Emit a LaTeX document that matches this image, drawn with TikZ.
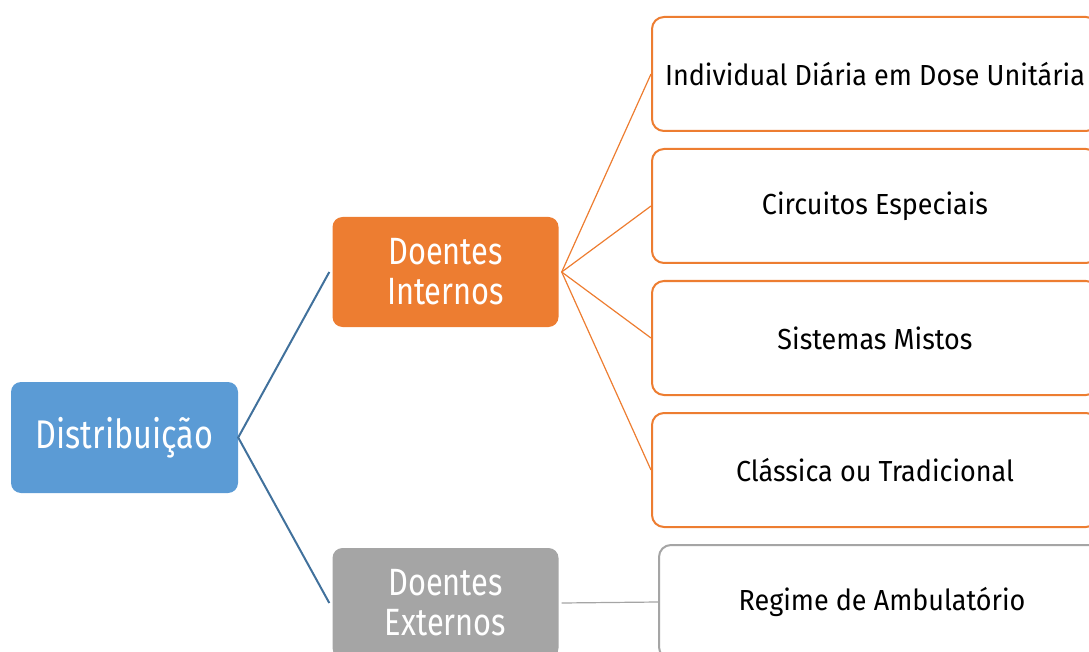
\documentclass[tikz,border=0pt]{standalone}
\usepackage{fontspec}
\setmainfont{Fira Sans}[FakeStretch=0.81]
\newfontfamily\leaffont{Fira Sans}[FakeStretch=0.93]
\definecolor{cblue}{HTML}{5B9BD5}
\definecolor{cblueline}{HTML}{41719C}
\definecolor{corange}{HTML}{ED7D31}
\definecolor{cgray}{HTML}{A5A5A5}
\tikzset{
  fillbox/.style={rectangle, rounded corners=10pt, minimum width=226pt, minimum height=110pt, text=white, align=center, font=\fontsize{38}{40}\selectfont, inner sep=0pt},
  leafbox/.style={rectangle, rounded corners=12pt, draw, line width=2pt, fill=white, minimum width=446pt, minimum height=114pt, text=black, font=\leaffont\fontsize{29}{32}\selectfont, inner sep=0pt},
  blueline/.style={draw=cblueline, line width=2pt},
  orangeline/.style={draw=corange, line width=1.2pt},
  grayline/.style={draw=cgray, line width=1.2pt},
}
\begin{document}
\begin{tikzpicture}[x=1pt,y=-1pt]
\useasboundingbox (0,0) rectangle (1089,652);
\clip (0,0) rectangle (1089,652);
\node[fillbox, fill=cblue, minimum width=227pt, minimum height=111pt, font=\fontsize{40}{40}\selectfont] (dist) at (124.5,437.5) {Distribuição};
\node[fillbox, fill=corange] (di) at (445.5,272) {Doentes\\Internos};
\node[fillbox, fill=cgray] (de) at (445.5,603) {Doentes\\Externos};
\node[leafbox, draw=corange] (c1) at (875,74) {Individual Diária em Dose Unitária};
\node[leafbox, draw=corange] (c2) at (875,206) {Circuitos Especiais};
\node[leafbox, draw=corange] (c3) at (875,338) {Sistemas Mistos};
\node[leafbox, draw=corange] (c4) at (875,470) {Clássica ou Tradicional};
\node[leafbox, draw=cgray] (r) at (882,602) {Regime de Ambulatório};
\draw[blueline] ([xshift=-3pt]di.west) -- (dist.east) -- ([xshift=-3pt]de.west);
\foreach \c in {c1,c2,c3,c4}
  \draw[orangeline] ([xshift=3pt]di.east) -- (\c.west);
\draw[grayline] ([xshift=3pt]de.east) -- (r.west);
\end{tikzpicture}
\end{document}
